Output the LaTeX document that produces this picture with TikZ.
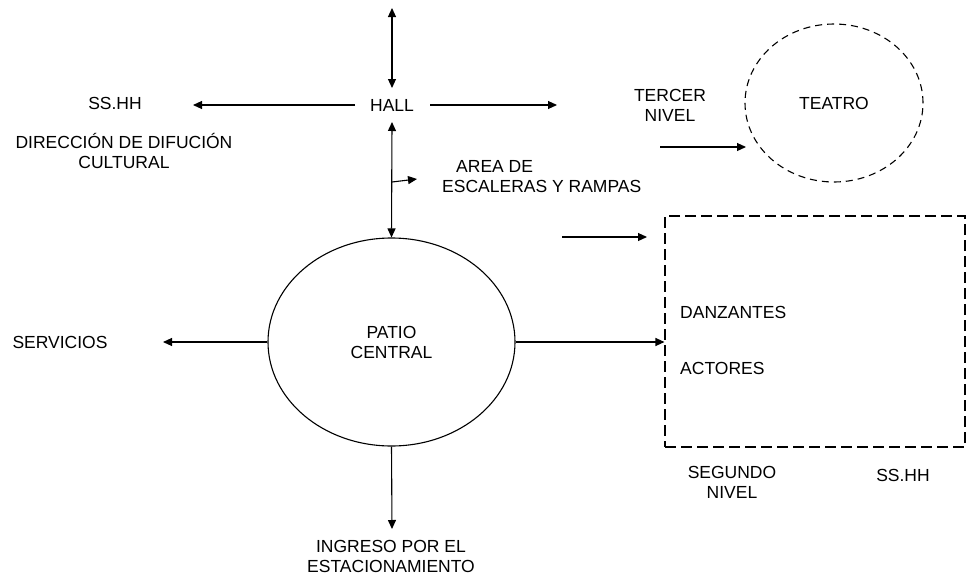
\documentclass[tikz,border=0pt]{standalone}
\usepackage{fontspec}
\setmainfont{Liberation Sans}
\usetikzlibrary{arrows.meta,shapes.geometric}

\begin{document}
\begin{tikzpicture}[x=1pt,y=-1pt,
  texto/.style={font=\fontsize{17.5}{20}\selectfont,align=center,inner sep=0pt},
  flecha/.style={-{Triangle[length=9pt,width=8pt]},line width=1.1pt},
  doble/.style={{Triangle[length=9pt,width=8pt]}-{Triangle[length=9pt,width=8pt]},line width=1.1pt}]
  \useasboundingbox (0,0) rectangle (969,576);
  % zonas
  \node[draw,ellipse,line width=1.1pt,minimum width=247pt,minimum height=208pt,texto] (patio) at (391.5,342) {PATIO\\CENTRAL};
  \node[draw,ellipse,line width=1.1pt,dash pattern=on 7pt off 5pt,minimum width=178pt,minimum height=158pt,texto] (teatro) at (834,103) {TEATRO};
  \node[draw,line width=1.1pt,dash pattern=on 11pt off 5pt,minimum width=300pt,minimum height=231pt] (segundo) at (815,331.5) {};
  % textos
  \node[texto] (hall) at (392,105) {HALL};
  \node[texto] (sshhA) at (115,103) {SS.HH};
  \node[texto] (direccion) at (124,151) {DIRECCIÓN DE DIFUCIÓN\\CULTURAL};
  \node[texto,align=left,anchor=west] (escaleras) at (442,177) {\hspace{14pt}AREA DE\\ESCALERAS Y RAMPAS};
  \node[texto] (tercer) at (670,105) {TERCER\\NIVEL};
  \node[texto,anchor=west] (danzantes) at (680,312) {DANZANTES};
  \node[texto,anchor=west] (actores) at (680,368) {ACTORES};
  \node[texto] (segnivel) at (732,482) {SEGUNDO\\NIVEL};
  \node[texto] (sshhB) at (903,475) {SS.HH};
  \node[texto] (servicios) at (60,342) {SERVICIOS};
  \node[texto] (ingreso) at (391,556) {INGRESO POR EL\\ESTACIONAMIENTO};
  % extremos libres
  \coordinate (arriba) at (392,8);
  \coordinate (hallN) at (392,88);
  \coordinate (hallO) at (355,105);
  \coordinate (sshhE) at (193,105);
  \coordinate (hallE) at (430,105);
  \coordinate (hallD) at (557,105);
  \coordinate (hallS) at (392,122);
  \coordinate (ramaA) at (392,182);
  \coordinate (ramaB) at (417,179);
  \coordinate (teatroA) at (660,147);
  \coordinate (teatroB) at (746,147);
  \coordinate (segA) at (562,237);
  \coordinate (segB) at (647,237);
  \coordinate (servE) at (163,342);
  \coordinate (ingN) at (392,529);
  % flechas
  \draw[doble] (arriba) -- (hallN);
  \draw[flecha] (hallO) -- (sshhE);
  \draw[flecha] (hallE) -- (hallD);
  \draw[doble] (hallS) -- (patio.north);
  \draw[flecha] (ramaA) -- (ramaB);
  \draw[flecha] (teatroA) -- (teatroB);
  \draw[flecha] (segA) -- (segB);
  \draw[flecha] (patio.east) -- (patio.east -| segundo.west);
  \draw[flecha] (patio.west) -- (servE);
  \draw[flecha] (patio.south) -- (ingN);
\end{tikzpicture}
\end{document}
